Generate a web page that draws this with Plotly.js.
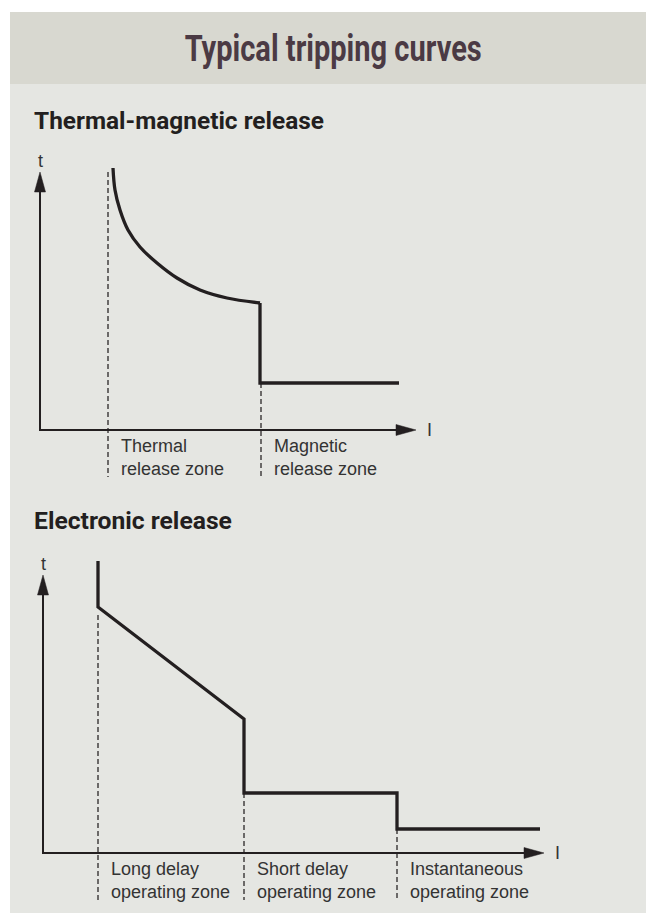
<!DOCTYPE html>
<html>
<head>
<meta charset="utf-8">
<script src="https://cdn.plot.ly/plotly-3.0.1.min.js"></script>
<style>
  html, body { margin: 0; padding: 0; background: #ffffff; }
  #chart { width: 646px; height: 922px; }
</style>
</head>
<body>
<div id="chart"></div>
<script>
// ---------- DATA ----------
// Thermal-magnetic release (current I vs. tripping time t, schematic units)
const thermalI = [73, 75, 80, 88, 100, 117, 137, 160, 187, 220];
const thermalT = [262, 240, 220, 200, 183, 167, 152, 140, 132, 127];
const magneticI = [220, 220, 359];
const magneticT = [127, 47, 47];
const tmZoneI = [68, 221];          // zone boundaries (dashed)
const tmZoneTopT = [258, 47];       // where each dashed boundary starts
const tmZoneLabels = [["Thermal", "release zone"], ["Magnetic", "release zone"]];
const tmAxisMax = [376, 258];       // [I-axis end, t-axis end]

// Electronic release
const elecI = [55, 55, 201, 201, 354, 354, 497];
const elecT = [292, 246, 134, 60, 60, 24, 24];
const elZoneI = [55, 201, 354];
const elZoneTopT = [238, 60, 24];
const elZoneLabels = [["Long delay", "operating zone"], ["Short delay", "operating zone"], ["Instantaneous", "operating zone"]];
const elAxisMax = [501, 278];

const mainTitle = "Typical tripping curves";
const subTitles = ["Thermal-magnetic release", "Electronic release"];
const axisLabels = ["t", "I"];

// ---------- STYLE ----------
const W = 646, H = 922;
const INK = "#231f20";
const LABEL = "#333333";
const ARROW_LEN = 20, ARROW_HALF = 5.5;
const DASH_BOTTOM = -47;
const LABEL_DX = 11;
const TEXT_WIDTHS = {};             // target rendered widths for the condensed display type
TEXT_WIDTHS[mainTitle] = [297, "center"];
TEXT_WIDTHS[subTitles[0]] = [290, "left"];
TEXT_WIDTHS[subTitles[1]] = [198, "left"];
const px = v => v / W;
const py = v => 1 - v / H;

function buildChart(xa, ya, curveSets, zoneI, zoneTop, zoneLabels, axisMax) {
  const traces = [];
  zoneI.forEach((xv, i) => {
    traces.push({
      x: [xv, xv], y: [zoneTop[i], DASH_BOTTOM], xaxis: xa, yaxis: ya,
      mode: "lines", line: { color: INK, width: 1.25, dash: "5px,3px" },
      hoverinfo: "skip", showlegend: false
    });
  });
  traces.push({
    x: [0, 0, axisMax[0] - ARROW_LEN / 2], y: [axisMax[1] - ARROW_LEN / 2, 0, 0],
    xaxis: xa, yaxis: ya, mode: "lines", line: { color: INK, width: 2 },
    hoverinfo: "skip", showlegend: false
  });
  traces.push({
    x: [-ARROW_HALF, 0, ARROW_HALF, -ARROW_HALF],
    y: [axisMax[1] - ARROW_LEN, axisMax[1], axisMax[1] - ARROW_LEN, axisMax[1] - ARROW_LEN],
    xaxis: xa, yaxis: ya, mode: "lines", fill: "toself", fillcolor: INK,
    line: { color: INK, width: 0.5 }, hoverinfo: "skip", showlegend: false
  });
  traces.push({
    x: [axisMax[0] - ARROW_LEN, axisMax[0], axisMax[0] - ARROW_LEN, axisMax[0] - ARROW_LEN],
    y: [-ARROW_HALF, 0, ARROW_HALF, -ARROW_HALF],
    xaxis: xa, yaxis: ya, mode: "lines", fill: "toself", fillcolor: INK,
    line: { color: INK, width: 0.5 }, hoverinfo: "skip", showlegend: false
  });
  curveSets.forEach(c => {
    traces.push({
      x: c.x, y: c.y, xaxis: xa, yaxis: ya, mode: "lines",
      line: { color: INK, width: 3.3, shape: c.shape || "linear", smoothing: 1.0 },
      hoverinfo: "skip", showlegend: false
    });
  });
  const ann = [];
  const xr = xa, yr = ya;
  const f = { family: "Liberation Sans, Arial, sans-serif", size: 18, color: LABEL };
  zoneLabels.forEach((lines, i) => {
    [-15.5, -39].forEach((yy, k) => {
      ann.push({
        xref: xr, yref: yr, x: zoneI[i] + LABEL_DX, y: yy, text: lines[k],
        showarrow: false, xanchor: "left", yanchor: "middle", font: f
      });
    });
  });
  ann.push({
    xref: xr, yref: yr, x: 0, y: axisMax[1] + 11, text: axisLabels[0],
    showarrow: false, xanchor: "center", yanchor: "middle", font: f
  });
  ann.push({
    xref: xr, yref: yr, x: axisMax[0] + 13, y: 0, text: axisLabels[1],
    showarrow: false, xanchor: "center", yanchor: "middle", font: f
  });
  return { traces, ann };
}

const topChart = buildChart("x", "y",
  [{ x: thermalI, y: thermalT, shape: "spline" }, { x: magneticI, y: magneticT }],
  tmZoneI, tmZoneTopT, tmZoneLabels, tmAxisMax);
const botChart = buildChart("x2", "y2",
  [{ x: elecI, y: elecT }],
  elZoneI, elZoneTopT, elZoneLabels, elAxisMax);

const titleAnn = [
  {
    xref: "paper", yref: "paper", x: px(333), y: py(48.5), text: mainTitle,
    showarrow: false, xanchor: "center", yanchor: "middle",
    font: { family: "Roboto, Liberation Sans, sans-serif", size: 37, weight: 700, color: "#4b3a44" }
  },
  {
    xref: "paper", yref: "paper", x: px(32), y: py(121), text: subTitles[0],
    showarrow: false, xanchor: "left", yanchor: "middle",
    font: { family: "Roboto, Liberation Sans, sans-serif", size: 23, weight: 700, color: INK }
  },
  {
    xref: "paper", yref: "paper", x: px(32), y: py(521), text: subTitles[1],
    showarrow: false, xanchor: "left", yanchor: "middle",
    font: { family: "Roboto, Liberation Sans, sans-serif", size: 23, weight: 700, color: INK }
  }
];

const hidden = { visible: false, fixedrange: true };
const layout = {
  width: W, height: H,
  margin: { l: 0, r: 0, t: 0, b: 0, pad: 0 },
  paper_bgcolor: "#ffffff", plot_bgcolor: "rgba(0,0,0,0)",
  showlegend: false,
  xaxis: Object.assign({ domain: [px(20), px(460)], range: [-20, 420], anchor: "y" }, hidden),
  yaxis: Object.assign({ domain: [py(490), py(160)], range: [-60, 270], anchor: "x" }, hidden),
  xaxis2: Object.assign({ domain: [px(23), px(603)], range: [-20, 560], anchor: "y2" }, hidden),
  yaxis2: Object.assign({ domain: [py(913), py(553)], range: [-60, 300], anchor: "x2" }, hidden),
  shapes: [
    { type: "rect", xref: "paper", yref: "paper", x0: px(10), x1: 1, y0: py(913), y1: py(84),
      fillcolor: "#e5e6e2", line: { width: 0 }, layer: "below" },
    { type: "rect", xref: "paper", yref: "paper", x0: px(10), x1: 1, y0: py(84), y1: py(12),
      fillcolor: "#d8d8d0", line: { width: 0 }, layer: "below" }
  ],
  annotations: titleAnn.concat(topChart.ann, botChart.ann)
};

Plotly.newPlot("chart", topChart.traces.concat(botChart.traces), layout, { staticPlot: true, displayModeBar: false })
  .then(() => {
    // the original headings use a condensed typeface: fit them to the measured widths
    document.querySelectorAll("#chart .annotation-text").forEach(el => {
      const spec = TEXT_WIDTHS[el.textContent];
      if (!spec) return;
      const w = el.getBBox().width;
      if (w > 0) {
        el.style.transformBox = "fill-box";
        el.style.transformOrigin = spec[1] === "left" ? "left center" : "center";
        el.style.transform = "scaleX(" + (spec[0] / w).toFixed(3) + ")";
      }
    });
  });
</script>
</body>
</html>
